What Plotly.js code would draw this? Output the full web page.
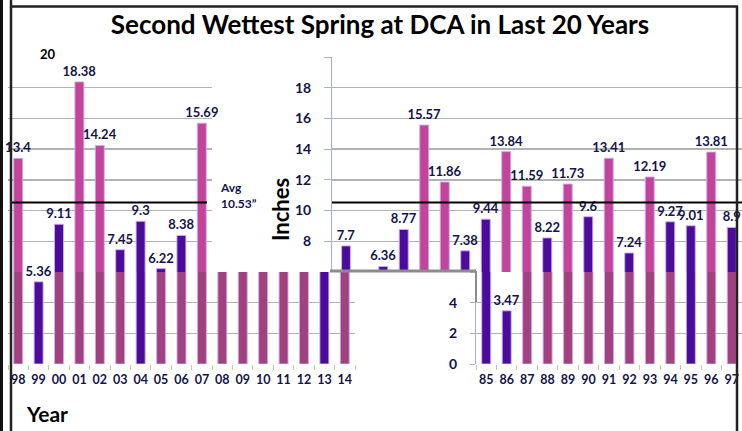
<!DOCTYPE html>
<html>
<head>
<meta charset="utf-8">
<script src="https://cdn.plot.ly/plotly-3.0.1.min.js"></script>
<style>html,body{margin:0;padding:0;background:#fff;}#chart{width:742px;height:431px;}</style>
</head>
<body>
<div id="chart"></div>
<script>
// ---- data ----
const chartTitle = 'Second Wettest Spring at DCA in Last 20 Years';
const avgRain = 10.53;
const leftYears = ['98','99','00','01','02','03','04','05','06','07','08','09','10','11','12','13','14'];
const leftRain  = [13.4, 5.36, 9.11, 18.38, 14.24, 7.45, 9.3, 6.22, 8.38, 15.69, 10.9, 10.2, 9.4, 11.5, 7.5, 8.5, 7.7];
const rightYears = ['78','79','80','81','82','83','84','85','86','87','88','89','90','91','92','93','94','95','96','97'];
const rightRainUpper = [null, null, 6.36, 8.77, 15.57, 11.86, 7.38, 9.44, 13.84, 11.59, 8.22, 11.73, 9.6, 13.41, 7.24, 12.19, 9.27, 9.01, 13.81, 8.9];
const lowerRightYears = ['85','86','87','88','89','90','91','92','93','94','95','96','97'];
const lowerRightRain  = [9.44, 3.47, 11.59, 8.22, 11.73, 9.6, 13.41, 7.24, 12.19, 9.27, 9.01, 13.81, 8.9];
const yTicksUpper = [8, 10, 12, 14, 16, 18, 20];
const yTicksLower = [0, 2, 4, 6];

// ---- styles ----
const W = 742, H = 431;
const PINK = '#c2449b', PURPLE = '#4b0b9b', MAUVE = '#a1417f';
const NAVY = '#14144a';
const FONT = 'Lato, "Open Sans", sans-serif';
const lowerLeftColors = [MAUVE, PURPLE, MAUVE, MAUVE, MAUVE, MAUVE, PURPLE, MAUVE, MAUVE, MAUVE, MAUVE, MAUVE, MAUVE, MAUVE, MAUVE, PURPLE, MAUVE];
const lowerRightColors = [PURPLE, PURPLE, MAUVE, MAUVE, MAUVE, MAUVE, MAUVE, MAUVE, MAUVE, MAUVE, PURPLE, MAUVE, MAUVE];
const px = x => x / W;
const py = y => 1 - y / H;
const colorByAvg = arr => arr.map(v => (v !== null && v > avgRain) ? PINK : PURPLE);
const upperText = arr => arr.map(v => (v !== null && v >= 6) ? String(v) : '');
const lowerText = arr => arr.map(v => (v !== null && v < 6) ? String(v) : '');
const barLine = {color: 'rgba(205,175,240,0.9)', width: 1};
const labelFont = {family: FONT, size: 13, color: NAVY, weight: 'bold'};

function barTrace(x, y, colors, text, xa, ya) {
  return {type: 'bar', x: x, y: y, xaxis: xa, yaxis: ya,
    marker: {color: colors, line: barLine},
    text: text, textposition: 'outside', cliponaxis: false, constraintext: 'none',
    textfont: labelFont, hoverinfo: 'skip', showlegend: false};
}

const upLeftYears = leftYears.slice(0, 10);
const upLeftRain = leftRain.slice(0, 10);
const lastYear = leftYears.slice(16);
const lastRain = leftRain.slice(16);

const data = [
  barTrace(upLeftYears, upLeftRain, colorByAvg(upLeftRain), upperText(upLeftRain), 'x', 'y'),
  barTrace(lastYear, lastRain, colorByAvg(lastRain), upperText(lastRain), 'x2', 'y2'),
  barTrace(rightYears, rightRainUpper, colorByAvg(rightRainUpper), upperText(rightRainUpper), 'x3', 'y3'),
  barTrace(leftYears, leftRain, lowerLeftColors, lowerText(leftRain), 'x4', 'y4'),
  barTrace(lowerRightYears, lowerRightRain, lowerRightColors, lowerText(lowerRightRain), 'x5', 'y5')
];

const GRID = '#b2b2b2';
const upperDom = [py(272), py(57)];
const lowerDom = [py(364), py(272)];
const hiddenX = {type: 'category', showticklabels: false, showgrid: false, zeroline: false, ticks: '', fixedrange: true};
const tickFont = {family: FONT, size: 14, color: NAVY, weight: 'bold'};
const xTickFont = {family: FONT, size: 12.5, color: NAVY, weight: 'bold'};

const layout = {
  width: W, height: H,
  margin: {l: 0, r: 0, t: 0, b: 0, pad: 0},
  paper_bgcolor: '#ffffff', plot_bgcolor: 'rgba(0,0,0,0)',
  bargap: 0.56,
  showlegend: false,
  title: {text: chartTitle, x: px(380), xanchor: 'center', y: py(25), yanchor: 'middle',
    font: {family: FONT, size: 26, color: '#000000', weight: 'bold'}},
  xaxis:  Object.assign({}, hiddenX, {domain: [px(8), px(212)], anchor: 'y'}),
  yaxis:  {domain: upperDom, range: [6, 20], anchor: 'x', tickvals: yTicksUpper, showticklabels: false,
    showgrid: true, gridcolor: GRID, gridwidth: 1.5, zeroline: false, ticks: '', fixedrange: true},
  xaxis2: Object.assign({}, hiddenX, {domain: [px(336), px(356)], anchor: 'y2'}),
  yaxis2: {domain: upperDom, range: [6, 20], anchor: 'x2', showticklabels: false, showgrid: false, zeroline: false, ticks: ''},
  xaxis3: Object.assign({}, hiddenX, {domain: [px(332), 1], anchor: 'y3'}),
  yaxis3: {domain: upperDom, range: [6, 20], anchor: 'x3', tickvals: yTicksUpper,
    ticktext: yTicksUpper.map(v => v < 20 ? String(v) : ''),
    showgrid: true, gridcolor: GRID, gridwidth: 1.5, zeroline: false,
    ticks: 'outside', ticklen: 7, tickcolor: GRID, ticklabelstandoff: 10,
    showline: true, linecolor: '#a8a8f4', linewidth: 1, tickfont: tickFont},
  xaxis4: {type: 'category', domain: [px(8), px(355)], anchor: 'y4', tickfont: xTickFont, tickangle: 0,
    ticks: 'outside', tickson: 'boundaries', ticklen: 5, tickcolor: '#c8c8a8', ticklabelstandoff: 6,
    showgrid: false, zeroline: false, showline: false},
  yaxis4: {domain: lowerDom, range: [0, 6], anchor: 'x4', tickvals: yTicksLower, showticklabels: false,
    showgrid: true, gridcolor: GRID, gridwidth: 1.5, zeroline: false, ticks: ''},
  xaxis5: {type: 'category', domain: [px(476), 1], anchor: 'y5', tickfont: xTickFont, tickangle: 0,
    ticks: 'outside', tickson: 'boundaries', ticklen: 5, tickcolor: '#c8c8a8', ticklabelstandoff: 6,
    showgrid: false, zeroline: false, showline: false},
  yaxis5: {domain: lowerDom, range: [0, 6], anchor: 'x5', tickvals: yTicksLower,
    ticktext: yTicksLower.map(v => v < 6 ? String(v) : ''),
    showgrid: true, gridcolor: GRID, gridwidth: 1.5, zeroline: false,
    ticks: 'outside', ticklen: 5, tickcolor: GRID, ticklabelstandoff: 10,
    showline: true, linecolor: '#a8a8f4', linewidth: 1, tickfont: tickFont},
  annotations: [
    {text: 'Avg<br>' + avgRain + '”', xref: 'paper', yref: 'paper', x: px(218), y: py(195),
      xanchor: 'left', yanchor: 'middle', align: 'left', showarrow: false,
      font: {family: FONT, size: 12, color: NAVY, weight: 'bold'}},
    {text: 'Inches', xref: 'paper', yref: 'paper', x: px(280), y: py(210), textangle: -90,
      xanchor: 'center', yanchor: 'middle', showarrow: false,
      font: {family: FONT, size: 22, color: '#000000', weight: 'bold'}},
    {text: 'Year', xref: 'paper', yref: 'paper', x: px(47), y: py(413),
      xanchor: 'center', yanchor: 'middle', showarrow: false,
      font: {family: FONT, size: 21, color: '#000000', weight: 'bold'}},
    {text: '20', xref: 'paper', yref: 'paper', x: px(48), y: py(54),
      xanchor: 'center', yanchor: 'middle', showarrow: false,
      font: {family: FONT, size: 13, color: '#000000', weight: 'bold'}}
  ],
  shapes: [
    {type: 'line', xref: 'x domain', yref: 'y', x0: 0.01, x1: 0.975, y0: avgRain, y1: avgRain, line: {color: '#000', width: 2}},
    {type: 'line', xref: 'x3 domain', yref: 'y3', x0: 0, x1: 1, y0: avgRain, y1: avgRain, line: {color: '#000', width: 2}},
    {type: 'line', xref: 'paper', yref: 'paper', x0: px(330), x1: px(476), y0: py(271), y1: py(271), line: {color: '#8c8c8c', width: 3}},
    {type: 'line', xref: 'paper', yref: 'paper', x0: px(476), x1: px(476), y0: py(271), y1: py(302), line: {color: '#8c8c8c', width: 2}},
    {type: 'line', xref: 'paper', yref: 'paper', x0: px(1.5), x1: px(1.5), y0: 0, y1: 1, line: {color: '#111', width: 3}},
    {type: 'line', xref: 'paper', yref: 'paper', x0: px(11), x1: px(11), y0: 0, y1: 1, line: {color: '#222', width: 2.5}},
    {type: 'line', xref: 'paper', yref: 'paper', x0: px(11), x1: px(738), y0: py(6.5), y1: py(6.5), line: {color: '#222', width: 2.5}},
    {type: 'line', xref: 'paper', yref: 'paper', x0: px(737), x1: px(737), y0: 0, y1: py(6), line: {color: '#222', width: 2.5}}
  ]
};

Plotly.newPlot('chart', data, layout, {staticPlot: true, displayModeBar: false});
</script>
</body>
</html>
